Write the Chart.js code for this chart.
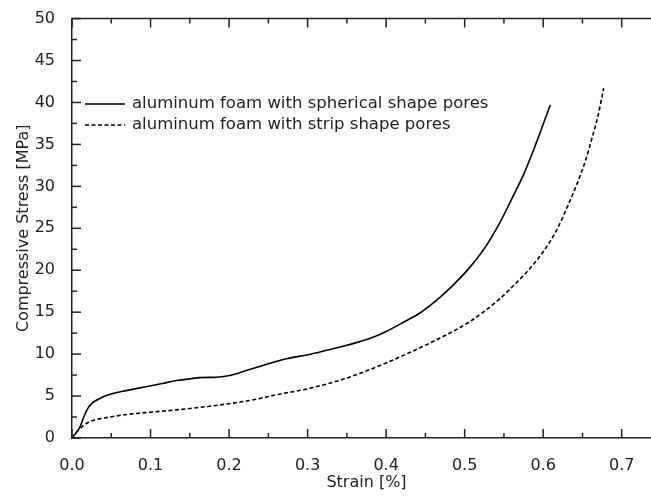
<!DOCTYPE html>
<html>
<head>
<meta charset="utf-8">
<script src="https://cdn.jsdelivr.net/npm/chart.js@4.4.0/dist/chart.umd.min.js"></script>
<style>
    html, body { margin: 0; padding: 0; overflow: hidden; background: #fff; }
</style>
</head>
<body>
<canvas id="grafico" width="680" height="498"></canvas>
<script>
// Datos (strain en %, stress en MPa)
const strainEsferica = [0, 0.005, 0.01, 0.015, 0.02, 0.025, 0.031, 0.036, 0.042, 0.052, 0.069, 0.085, 0.099, 0.115, 0.133, 0.150, 0.163, 0.184, 0.201, 0.222, 0.248, 0.273, 0.299, 0.324, 0.350, 0.379, 0.400, 0.422, 0.443, 0.464, 0.485, 0.507, 0.528, 0.545, 0.562, 0.575, 0.588, 0.598, 0.609];
const stressEsferica = [0, 0.6, 1.3, 2.5, 3.5, 4.1, 4.5, 4.75, 5.0, 5.3, 5.65, 5.95, 6.2, 6.5, 6.85, 7.05, 7.2, 7.25, 7.45, 8.05, 8.8, 9.45, 9.9, 10.45, 11.05, 11.85, 12.7, 13.8, 14.9, 16.4, 18.2, 20.4, 23.0, 25.7, 28.9, 31.4, 34.4, 36.9, 39.7];

const strainTira = [0, 0.004, 0.008, 0.016, 0.027, 0.048, 0.074, 0.103, 0.133, 0.167, 0.197, 0.231, 0.260, 0.299, 0.345, 0.379, 0.400, 0.422, 0.443, 0.464, 0.486, 0.507, 0.525, 0.541, 0.556, 0.570, 0.583, 0.600, 0.616, 0.630, 0.643, 0.654, 0.662, 0.670, 0.677];
const stressTira = [0, 0.5, 0.9, 1.6, 2.1, 2.5, 2.85, 3.1, 3.35, 3.7, 4.05, 4.55, 5.15, 5.85, 7.0, 8.15, 8.95, 9.85, 10.75, 11.7, 12.75, 13.9, 15.1, 16.3, 17.6, 18.9, 20.2, 22.2, 24.6, 27.4, 30.3, 33.1, 35.7, 38.5, 41.7];

const xTicks = [0, 0.1, 0.2, 0.3, 0.4, 0.5, 0.6, 0.7];
const yTicks = [0, 5, 10, 15, 20, 25, 30, 35, 40, 45, 50];
const leyendas = ['aluminum foam with spherical shape pores', 'aluminum foam with strip shape pores'];

const fuente = "'DejaVu Sans', sans-serif";
const colorEje = '#222';
const guion = [4, 2.5];

const puntos = (xs, ys) => xs.map((x, i) => ({ x: x, y: ys[i] }));

// Marcas hacia adentro, línea superior y leyenda dentro del área
const ejesPlugin = {
    id: 'ejes',
    afterDraw(chart) {
        const ctx = chart.ctx;
        const { left, right, top, bottom } = chart.chartArea;
        const sx = chart.scales.x;
        const sy = chart.scales.y;

        ctx.save();
        ctx.strokeStyle = colorEje;
        ctx.lineWidth = 1.5;

        ctx.beginPath();
        ctx.moveTo(left, top);
        ctx.lineTo(right, top);
        ctx.stroke();

        const xMenores = xTicks.map(v => v + 0.05).filter(v => v <= sx.max);
        const yMenores = yTicks.map(v => v + 2.5).filter(v => v < sy.max);

        const marcaX = (v, largo) => {
            const px = sx.getPixelForValue(v);
            ctx.beginPath();
            ctx.moveTo(px, bottom); ctx.lineTo(px, bottom - largo);
            ctx.moveTo(px, top); ctx.lineTo(px, top + largo);
            ctx.stroke();
        };
        const marcaY = (v, largo) => {
            const py = sy.getPixelForValue(v);
            ctx.beginPath();
            ctx.moveTo(left, py); ctx.lineTo(left + largo, py);
            ctx.stroke();
        };
        xTicks.forEach(v => marcaX(v, 9));
        xMenores.forEach(v => marcaX(v, 5));
        yTicks.forEach(v => marcaY(v, 9));
        yMenores.forEach(v => marcaY(v, 5));

        // Leyenda
        const items = [
            { texto: leyendas[0], dash: [], y: 104 },
            { texto: leyendas[1], dash: guion, y: 125 }
        ];
        ctx.font = '16.5px ' + fuente;
        ctx.textBaseline = 'middle';
        ctx.fillStyle = colorEje;
        items.forEach(it => {
            ctx.strokeStyle = '#000';
            ctx.lineWidth = 1.5;
            ctx.setLineDash(it.dash);
            ctx.beginPath();
            ctx.moveTo(85, it.y);
            ctx.lineTo(125, it.y);
            ctx.stroke();
            ctx.setLineDash([]);
            ctx.fillText(it.texto, 132, it.y);
        });
        ctx.restore();
    }
};

new Chart(document.getElementById('grafico'), {
    type: 'scatter',
    data: {
        datasets: [
            { label: leyendas[0], data: puntos(strainEsferica, stressEsferica), showLine: true, borderColor: '#000', borderWidth: 1.6, pointRadius: 0, cubicInterpolationMode: 'monotone' },
            { label: leyendas[1], data: puntos(strainTira, stressTira), showLine: true, borderColor: '#000', borderWidth: 1.6, borderDash: guion, pointRadius: 0, cubicInterpolationMode: 'monotone' }
        ]
    },
    options: {
        responsive: false,
        animation: false,
        layout: { padding: { top: 18, right: 19, left: 0, bottom: 0 } },
        plugins: { legend: { display: false }, tooltip: { enabled: false } },
        scales: {
            x: {
                type: 'linear', min: 0, max: 0.75,
                afterFit: s => { s.height = 60; },
                afterBuildTicks: s => { s.ticks = xTicks.map(v => ({ value: v })); },
                grid: { display: false },
                border: { display: true, color: colorEje, width: 1.5 },
                ticks: { font: { family: fuente, size: 16 }, color: colorEje, padding: 10, maxRotation: 0, autoSkip: false, callback: v => v.toFixed(1) },
                title: { display: true, text: 'Strain [%]', font: { family: fuente, size: 16 }, color: colorEje, padding: { top: 0, bottom: 6 } }
            },
            y: {
                min: 0, max: 50,
                afterFit: s => { s.width = 72; },
                afterBuildTicks: s => { s.ticks = yTicks.map(v => ({ value: v })); },
                grid: { display: false },
                border: { display: true, color: colorEje, width: 1.5 },
                ticks: { font: { family: fuente, size: 16 }, color: colorEje, padding: 9, autoSkip: false },
                title: { display: true, text: 'Compressive Stress [MPa]', font: { family: fuente, size: 16 }, color: colorEje, padding: { top: 14, bottom: 0 } }
            }
        }
    },
    plugins: [ejesPlugin]
});
</script>
</body>
</html>
